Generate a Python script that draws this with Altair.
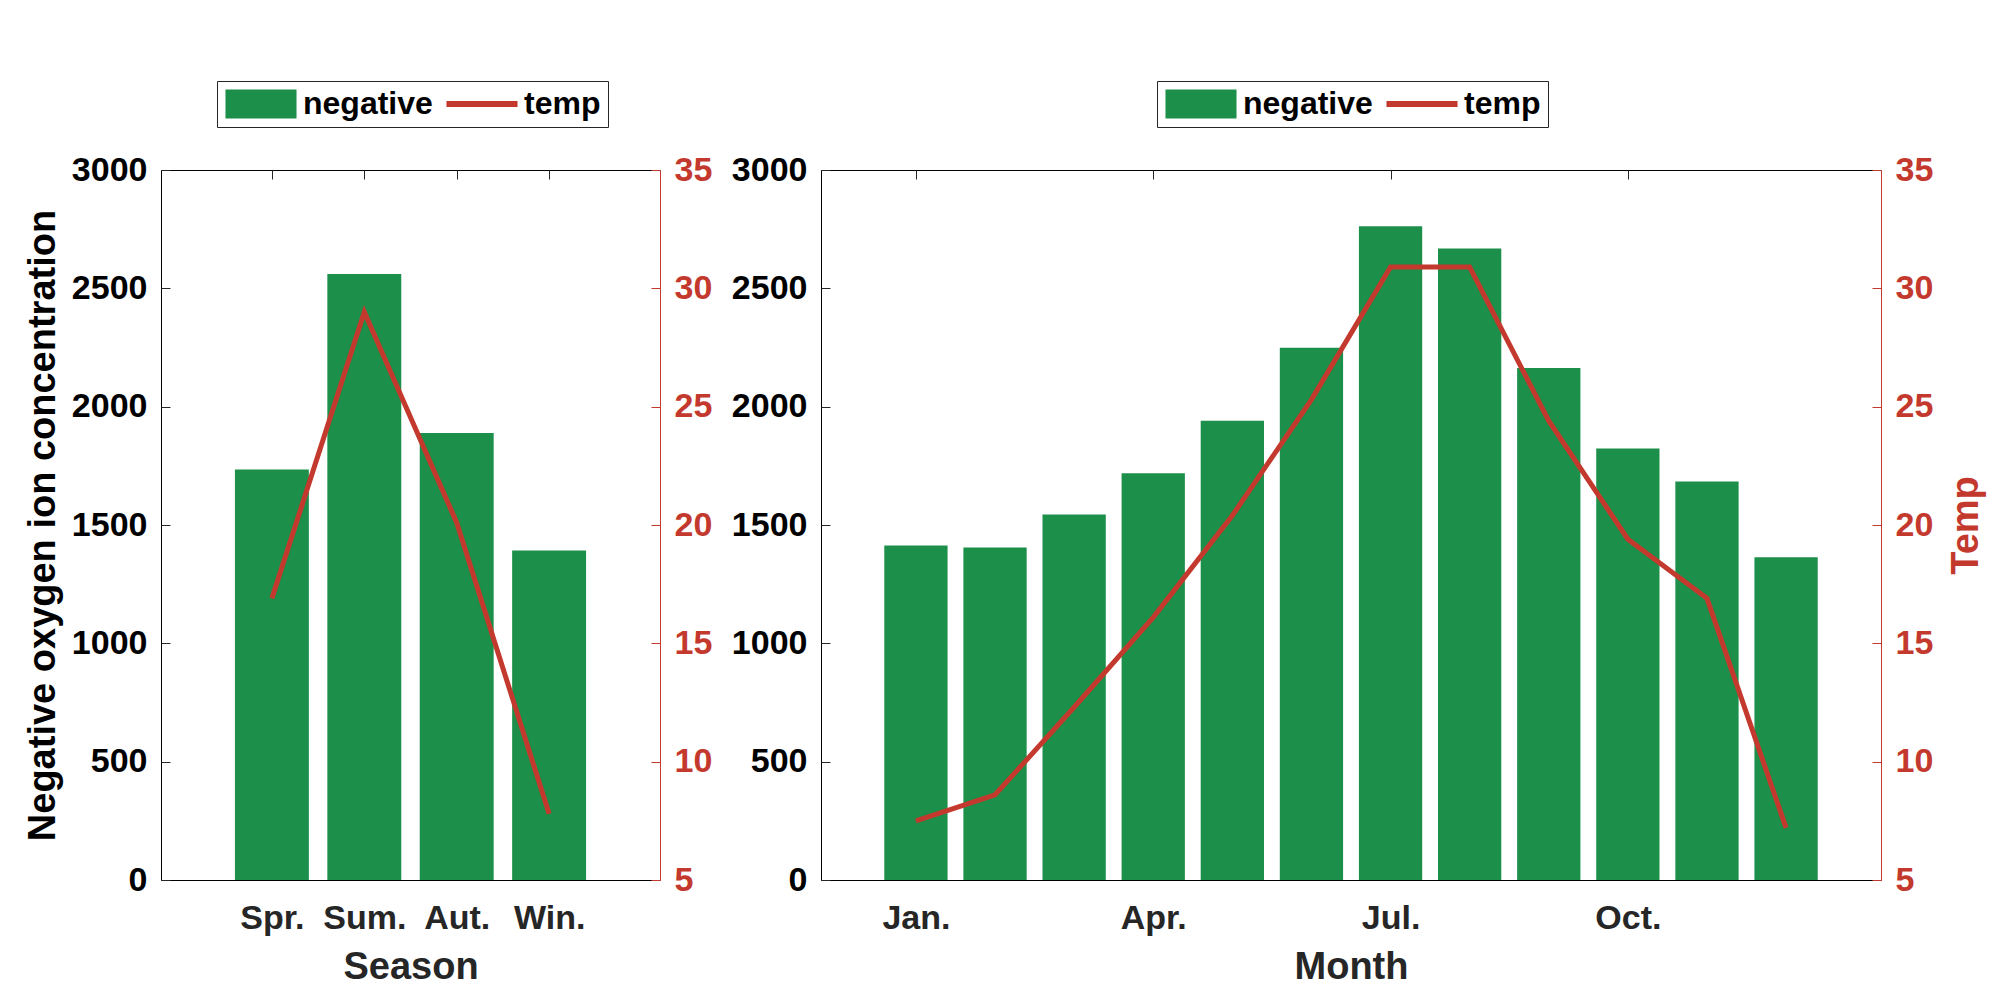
import altair as alt
import pandas as pd

# ---------------- data ----------------
seasons = ["Spr.", "Sum.", "Aut.", "Win."]
season_neg = [1735, 2561, 1889, 1392]
season_temp = [16.9, 29.0, 20.1, 7.8]

months = ["Jan.", "Feb.", "Mar.", "Apr.", "May", "Jun.",
          "Jul.", "Aug.", "Sep.", "Oct.", "Nov.", "Dec."]
month_neg = [1413, 1405, 1544, 1719, 1940, 2249, 2762, 2668, 2163, 1823, 1684, 1364]
month_temp = [7.5, 8.6, 12.3, 16.1, 20.4, 25.3, 30.9, 30.9, 24.4, 19.4, 16.9, 7.2]
month_tick_pos = [1, 4, 7, 10]

series = ["negative", "temp"]
neg_ticks = [0, 500, 1000, 1500, 2000, 2500, 3000]
temp_ticks = [5, 10, 15, 20, 25, 30, 35]

# ---------------- style ----------------
GREEN = "#1C8F4A"
RED = "#C4392D"
FONT = "Liberation Sans"
DARK = "#262626"
RECT_PATH = "M-2.45,-1H2.45V1H-2.45Z"
LINE_PATH = "M-2.45,-0.2H2.45V0.2H-2.45Z"

PLOT_H = 710
TICK = 9


def make_df(labels, neg, temp):
    return pd.DataFrame({
        "pos": list(range(1, len(labels) + 1)),
        "label": labels,
        "neg": neg,
        "temp": temp,
    })


def panel(labels, neg, temp, tick_vals, x_title, y_title, temp_title, width, legend_x):
    n = len(labels)
    df = make_df(labels, neg, temp)
    xdom = [-0.2, n + 1.2]
    arr = "[" + ",".join("'" + s + "'" for s in labels) + "]"
    label_expr = arr + "[datum.value - 1]"

    left_axis = dict(
        orient="left", values=neg_ticks, ticks=False, labelPadding=14, format="d",
        labelColor="black", domainColor="black", grid=False,
    )
    if y_title:
        left_axis.update(title=y_title, titleAngle=270, titleAlign="center",
                         titleBaseline="alphabetic", titleX=-107, titleY=PLOT_H / 2,
                         titleColor="black")
    else:
        left_axis.update(title=None)

    right_axis = dict(
        orient="right", values=temp_ticks, ticks=False, labelPadding=14, format="d",
        labelColor=RED, domainColor=RED, grid=False,
    )
    if temp_title:
        right_axis.update(title=temp_title, titleAngle=270, titleAlign="center",
                          titleBaseline="alphabetic", titleX=96, titleY=PLOT_H / 2,
                          titleColor=RED)
    else:
        right_axis.update(title=None)

    bars = alt.Chart(df).transform_calculate(
        x0="datum.pos - 0.4", x1="datum.pos + 0.4"
    ).mark_bar(color=GREEN).encode(
        x=alt.X("x0:Q", scale=alt.Scale(domain=xdom, nice=False, zero=False),
                axis=alt.Axis(orient="bottom", values=tick_vals, labelExpr=label_expr,
                              ticks=False, labelPadding=21, labelColor=DARK,
                              domainColor="black", title=x_title, titleColor=DARK,
                              titleY=68, titleBaseline="top", grid=False)),
        x2="x1:Q",
        y=alt.Y("neg:Q", scale=alt.Scale(domain=[0, 3000], nice=False),
                axis=alt.Axis(**left_axis)),
        y2=alt.datum(0),
    )

    line = alt.Chart(df).mark_line(color=RED, strokeWidth=5).encode(
        x=alt.X("pos:Q", scale=alt.Scale(domain=xdom, nice=False, zero=False),
                axis=alt.Axis(orient="top", labels=False, ticks=False, title=None,
                              domainColor="black", grid=False)),
        y=alt.Y("temp:Q", scale=alt.Scale(domain=[5, 35], nice=False),
                axis=alt.Axis(**right_axis)),
    )

    leg = alt.Legend(
        title=None, orient="none", legendX=legend_x, legendY=-89,
        direction="horizontal", symbolSize=841, symbolOffset=21, labelOffset=26,
        columnPadding=12, padding=7, strokeColor=DARK, fillColor="white",
        labelFont=FONT, labelFontSize=32, labelFontWeight="bold", labelColor="black",
        symbolStrokeWidth=0, symbolOpacity=1, labelLimit=400,
    )
    leg_df = pd.DataFrame({"series": series, "pos": [1, 1], "v": [20, 20]})
    # invisible helper layer: carries the legend, the inward top ticks and the
    # inward red ticks of the temperature axis
    pts = alt.Chart(leg_df).mark_point(filled=True, opacity=0).encode(
        x=alt.X("pos:Q", scale=alt.Scale(domain=xdom, nice=False, zero=False),
                axis=alt.Axis(orient="bottom", offset=-PLOT_H, values=tick_vals,
                              labels=False, domain=False, ticks=True, tickSize=TICK,
                              tickColor=DARK, title=None, grid=False)),
        y=alt.Y("v:Q", scale=alt.Scale(domain=[5, 35], nice=False),
                axis=alt.Axis(orient="left", offset=-width, values=temp_ticks,
                              labels=False, domain=False, ticks=True, tickSize=TICK,
                              tickColor=RED, title=None, grid=False)),
        color=alt.Color("series:N", sort=series,
                        scale=alt.Scale(domain=series, range=[GREEN, RED]), legend=leg),
        shape=alt.Shape("series:N", sort=series,
                        scale=alt.Scale(domain=series, range=[RECT_PATH, LINE_PATH]), legend=leg),
    )

    # invisible helper layer for the inward ticks of the left axis
    lticks = alt.Chart(df).mark_point(opacity=0).encode(
        x=alt.X("pos:Q", scale=alt.Scale(domain=xdom, nice=False, zero=False), axis=None),
        y=alt.Y("neg:Q", scale=alt.Scale(domain=[0, 3000], nice=False),
                axis=alt.Axis(orient="right", offset=-width, values=neg_ticks,
                              labels=False, domain=False, ticks=True, tickSize=TICK,
                              tickColor=DARK, title=None, grid=False)),
    )

    return alt.layer(bars, line, pts, lticks).resolve_scale(
        x="independent", y="independent"
    ).properties(width=width, height=PLOT_H)


left = panel(seasons, season_neg, season_temp, [1, 2, 3, 4], "Season",
             "Negative oxygen ion concentration", None, 499, 56)
right = panel(months, month_neg, month_temp, month_tick_pos, "Month",
              None, "Temp", 1060, 336)

chart = alt.hconcat(left, right, spacing=161, bounds="flush").resolve_scale(
    color="independent", shape="independent"
).resolve_legend(
    color="independent", shape="independent"
).properties(
    padding={"left": 15, "top": 72, "right": 5, "bottom": 5}
).configure_view(
    stroke=None
).configure_axis(
    labelFont=FONT, titleFont=FONT, labelFontWeight="bold", titleFontWeight="bold",
    labelFontSize=34, titleFontSize=38, grid=False,
)

chart.save("out.html", embed_options={"renderer": "svg", "actions": False})
